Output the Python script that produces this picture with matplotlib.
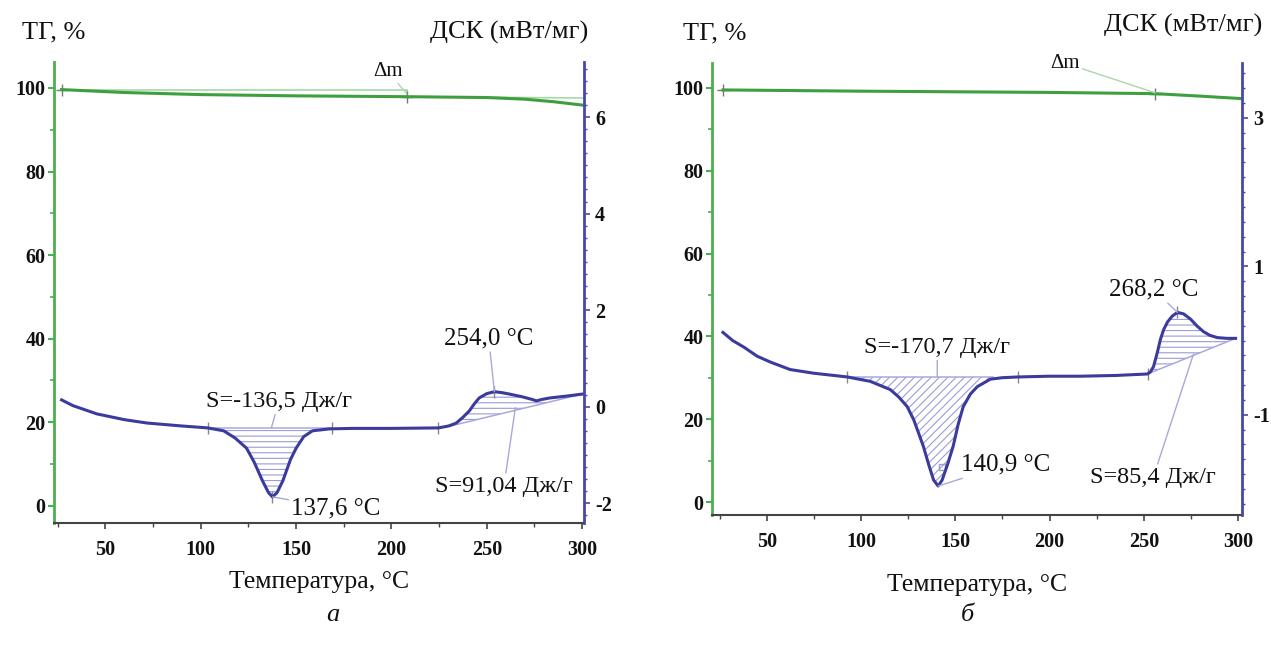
import numpy as np
import matplotlib
matplotlib.use("Agg")
import matplotlib.pyplot as plt
from matplotlib.ticker import MultipleLocator, FixedLocator

plt.rcParams['font.family'] = ['Liberation Serif', 'DejaVu Serif']
plt.rcParams['hatch.linewidth'] = 0.8
plt.rcParams['axes.unicode_minus'] = False

# ---- panel a ----
tg_a_t = [27, 60, 100, 150, 208, 250, 270, 285, 300]
tg_a_v = [99.6, 98.9, 98.4, 98.1, 97.9, 97.7, 97.3, 96.7, 95.9]

dsc_a_t = [27, 33, 45.5, 60, 72, 90, 103.6, 112, 118, 124, 128, 132.4, 135.5, 137.6,
           140, 143, 147, 150, 154, 158.6, 167.5, 180, 200, 224.6, 230, 234, 237.5,
           240.8, 243.5, 246, 250, 254, 258, 262, 268, 273.8, 276, 279, 283, 292, 300]
dsc_a_v = [0.14, 0.02, -0.15, -0.27, -0.34, -0.40, -0.44, -0.50, -0.65, -0.86, -1.15,
           -1.54, -1.78, -1.87, -1.78, -1.54, -1.10, -0.86, -0.62, -0.50, -0.46, -0.45,
           -0.45, -0.44, -0.40, -0.34, -0.22, -0.09, 0.06, 0.18, 0.27, 0.31, 0.29, 0.26,
           0.21, 0.15, 0.12, 0.15, 0.18, 0.22, 0.26]
base_a1_t = [103.6, 169]
base_a1_v = [-0.44, -0.44]
base_a2_t = [231, 300]
base_a2_v = [-0.40, 0.26]
dsc_a_ticks = [-2, 0, 2, 4, 6]

# ---- panel b ----
tg_b_t = [26.8, 100, 200, 256, 280, 302]
tg_b_v = [99.5, 99.2, 98.9, 98.6, 98.0, 97.4]

dsc_b_t = [26.8, 32, 38, 44.9, 52, 62.4, 75, 92.7, 105, 115.5, 120, 124.5, 128, 131,
           133, 136, 138.5, 140.9, 143, 146, 148.9, 151.5, 154.2, 158, 161.7, 168.6,
           175, 183.4, 200, 216.3, 235, 251.9, 253.5, 255.1, 257, 258.8, 260.5, 262.5,
           265, 267.8, 271, 274.7, 278, 281.6, 285, 289, 294, 298.6]
dsc_b_v = [0.11, 0.0, -0.09, -0.21, -0.29, -0.39, -0.44, -0.49, -0.55, -0.66, -0.76,
           -0.89, -1.07, -1.28, -1.42, -1.68, -1.88, -1.96, -1.88, -1.66, -1.42, -1.13,
           -0.89, -0.72, -0.62, -0.52, -0.50, -0.49, -0.48, -0.48, -0.47, -0.45, -0.42,
           -0.35, -0.17, 0.02, 0.15, 0.25, 0.33, 0.38, 0.36, 0.29, 0.20, 0.12, 0.07,
           0.04, 0.03, 0.03]
base_b1_t = [92.7, 170]
base_b1_v = [-0.49, -0.49]
base_b2_t = [251.9, 298.6]
base_b2_v = [-0.45, 0.03]
dsc_b_ticks = [-1, 1, 3]

W, H = 1271, 646
GREEN = '#3f9f3f'
GREEN_AX = '#4caf50'
LIGHT_GREEN = '#a8d8a8'
BLUE = '#3b3b9e'
BLUE_AX = '#4848a8'
HATCH = '#9c9cd6'
LEAD = '#a8a8dc'
TXT = '#111111'


def fx(x):
    return x / W


def fy(y):
    return 1 - y / H


def make_panel(rect, xlim, tg_lim, dsc_lim, dsc_ticks, dsc_minor):
    ax = fig.add_axes(rect)
    ax2 = ax.twinx()
    ax.set_xlim(*xlim)
    ax.set_ylim(*tg_lim)
    ax2.set_ylim(*dsc_lim)
    for a in (ax, ax2):
        for s in a.spines.values():
            s.set_visible(False)
    ax.spines['left'].set_visible(True)
    ax.spines['left'].set_color(GREEN_AX)
    ax.spines['left'].set_linewidth(2)
    ax.spines['bottom'].set_visible(True)
    ax.spines['bottom'].set_color('#444444')
    ax.spines['bottom'].set_linewidth(1.5)
    ax2.spines['right'].set_visible(True)
    ax2.spines['right'].set_color(BLUE_AX)
    ax2.spines['right'].set_linewidth(2)

    ax.xaxis.set_major_locator(MultipleLocator(50))
    ax.xaxis.set_minor_locator(MultipleLocator(25))
    ax.yaxis.set_major_locator(MultipleLocator(20))
    ax.yaxis.set_minor_locator(MultipleLocator(10))
    ax2.yaxis.set_major_locator(FixedLocator(dsc_ticks))
    ax2.yaxis.set_minor_locator(MultipleLocator(dsc_minor))

    ax.tick_params(axis='x', which='major', length=4, width=1.2, color='#444444',
                   pad=8, labelcolor=TXT)
    ax.tick_params(axis='x', which='minor', length=3, width=1, color='#444444')
    ax.tick_params(axis='y', which='major', length=4, width=1.5, color=GREEN_AX,
                   pad=2, labelcolor=TXT)
    ax.tick_params(axis='y', which='minor', length=3, width=1.2, color=GREEN_AX)
    ax2.tick_params(axis='y', which='major', length=4, width=1.2, color=BLUE_AX,
                    pad=4, labelcolor=TXT)
    ax2.tick_params(axis='y', which='minor', length=2.5, width=1, color=BLUE_AX)
    for lab in ax.get_xticklabels() + ax.get_yticklabels() + ax2.get_yticklabels():
        lab.set_fontweight('bold')
        lab.set_fontsize(14.5)
    return ax, ax2


def hatch_area(ax2, t, v, bt, bv, lo, hi, hatch):
    t = np.asarray(t)
    v = np.asarray(v)
    m = (t >= lo) & (t <= hi)
    ts = t[m]
    base = np.interp(ts, bt, bv)
    ax2.fill_between(ts, v[m], base, facecolor='none', edgecolor=HATCH,
                     hatch=hatch, linewidth=0)
    ax2.plot(bt, bv, color=LEAD, lw=1.1)


def lead(ax, xy, xytext, text, size=17.5, color=LEAD, ha='center', va='center'):
    ax.annotate(text, xy=xy, xytext=xytext, ha=ha, va=va, fontsize=size,
                color=TXT, annotation_clip=False,
                arrowprops=dict(arrowstyle='-', color=color, lw=1.0,
                                shrinkA=0, shrinkB=0))


fig = plt.figure(figsize=(W / 100, H / 100), dpi=100)

# ---------- panel a ----------
rect_a = [fx(54), fy(523), fx(584) - fx(54), fy(62) - fy(523)]
ax, ax2 = make_panel(rect_a, (23, 301), (-4.1, 106.2), (-2.41, 7.14), dsc_a_ticks, 0.25)

ax.plot(tg_a_t, tg_a_v, color=GREEN, lw=2.2, zorder=3)
ax.plot([27, 208], [99.6, 99.6], color=LIGHT_GREEN, lw=1.2)
ax.plot([208, 208], [99.6, 97.9], color=LIGHT_GREEN, lw=1.2)
ax.plot([208, 300], [97.9, 97.6], color=LIGHT_GREEN, lw=1.2)
ax.plot([27, 208], [99.6, 97.9], ls='none', marker='+', ms=9, mew=1, color='#777777')
lead(ax, (208, 98.6), (198, 104.0), 'Δm', size=15, color=LIGHT_GREEN)

ax2.plot(dsc_a_t, dsc_a_v, color=BLUE, lw=2.2, zorder=3)
hatch_area(ax2, dsc_a_t, dsc_a_v, base_a1_t, base_a1_v, 103.6, 169, '---')
hatch_area(ax2, dsc_a_t, dsc_a_v, base_a2_t, base_a2_v, 231, 300, '---')
ax2.plot([103.6, 169, 224.6, 254, 137.6], [-0.44, -0.44, -0.44, 0.31, -1.87],
         ls='none', marker='|', ms=9, mew=1, color='#888888')
lead(ax2, (137, -0.44), (141, 0.11), 'S=-136,5 Дж/г')
lead(ax2, (137.6, -1.87), (171, -2.1), '137,6 °C', size=18)
lead(ax2, (254, 0.31), (251, 1.42), '254,0 °C', size=18)
lead(ax2, (265, -0.02), (259, -1.65), 'S=91,04 Дж/г')

ax.set_xlabel('Температура, °C', fontsize=18.5, color=TXT, labelpad=8)
fig.text(fx(22), fy(32), 'ТГ, %', fontsize=19, ha='left', va='center', color=TXT)
fig.text(fx(588), fy(32), 'ДСК (мВт/мг)', fontsize=19, ha='right', va='center', color=TXT)
fig.text(fx(333), fy(615), 'а', fontsize=19, style='italic', ha='center', va='center', color=TXT)

# ---------- panel b ----------
rect_b = [fx(712), fy(515), fx(1242) - fx(712), fy(63) - fy(515)]
bx, bx2 = make_panel(rect_b, (21, 302), (-3.1, 106.0), (-2.35, 3.74), dsc_b_ticks, 0.2)

bx.plot(tg_b_t, tg_b_v, color=GREEN, lw=2.2, zorder=3)
bx.plot([26.8, 256], [99.5, 98.6], ls='none', marker='+', ms=9, mew=1, color='#777777')
lead(bx, (256, 98.8), (208, 106.0), 'Δm', size=15, color=LIGHT_GREEN)

bx2.plot(dsc_b_t, dsc_b_v, color=BLUE, lw=2.2, zorder=3)
hatch_area(bx2, dsc_b_t, dsc_b_v, base_b1_t, base_b1_v, 92.7, 170, '////')
hatch_area(bx2, dsc_b_t, dsc_b_v, base_b2_t, base_b2_v, 251.9, 298.6, '---')
bx2.plot([92.7, 183.4, 251.9, 267.8], [-0.49, -0.49, -0.45, 0.38],
         ls='none', marker='|', ms=9, mew=1, color='#888888')
bx2.plot([143], [-1.71], ls='none', marker='s', ms=5, mfc='none', mec=HATCH)
lead(bx2, (140.4, -0.49), (140.4, -0.09), 'S=-170,7 Дж/г')
lead(bx2, (140.9, -1.96), (176.5, -1.67), '140,9 °C', size=18)
lead(bx2, (267.8, 0.38), (255, 0.69), '268,2 °C', size=18)
lead(bx2, (276.3, -0.18), (255, -1.84), 'S=85,4 Дж/г')

bx.set_xlabel('Температура, °C', fontsize=18.5, color=TXT, labelpad=16)
fig.text(fx(683), fy(33), 'ТГ, %', fontsize=19, ha='left', va='center', color=TXT)
fig.text(fx(1262), fy(25), 'ДСК (мВт/мг)', fontsize=19, ha='right', va='center', color=TXT)
fig.text(fx(967), fy(615), 'б', fontsize=19, style='italic', ha='center', va='center', color=TXT)

fig.savefig('out.png', dpi=100, facecolor='white')
